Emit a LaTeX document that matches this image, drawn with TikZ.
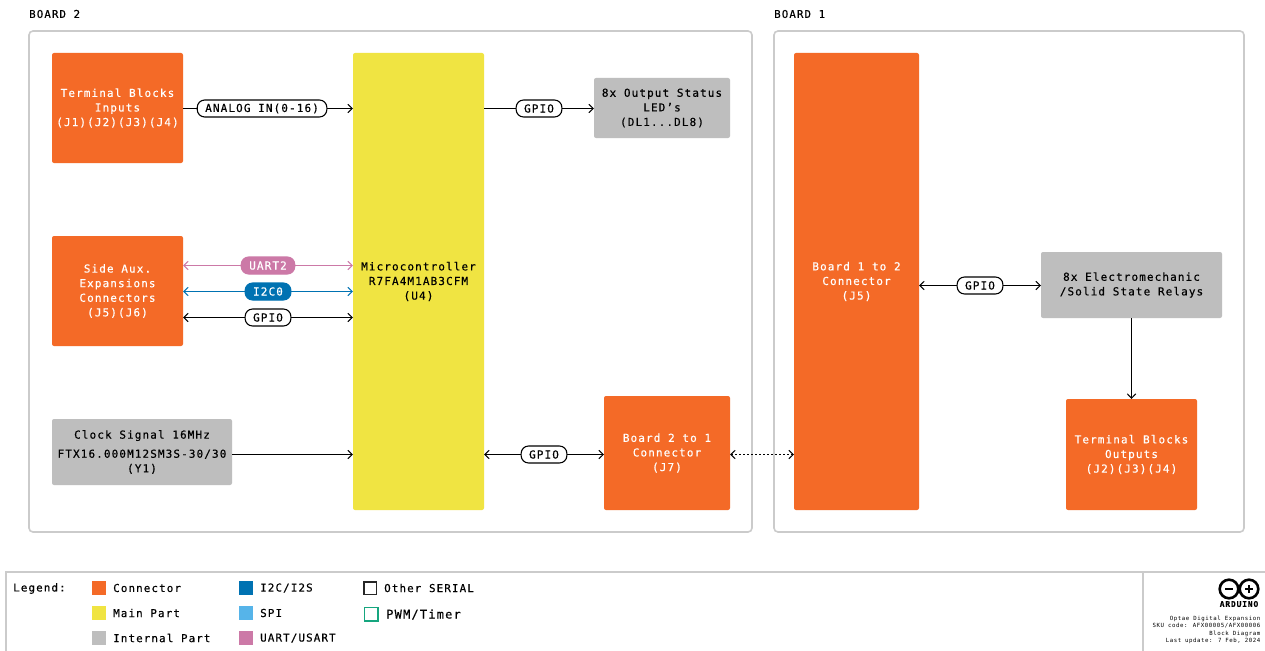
\documentclass[tikz,border=0pt]{standalone}
\usepackage{fontspec}
\setmainfont{DejaVu Sans Mono}[LetterSpace=10,FakeBold=0.35]
\newfontfamily\plainmono{DejaVu Sans Mono}[LetterSpace=10]
\usetikzlibrary{arrows.meta}
\definecolor{cOrange}{HTML}{F46A27}
\definecolor{cYellow}{HTML}{F0E442}
\definecolor{cGrey}{HTML}{BEBEBE}
\definecolor{cFrame}{HTML}{CBCBCB}
\definecolor{cBlue}{HTML}{0072B2}
\definecolor{cSky}{HTML}{56B4E9}
\definecolor{cPink}{HTML}{CC79A7}
\definecolor{cGreen}{HTML}{16A67F}
\tikzset{
  sized/.style 2 args={minimum width=#1pt,minimum height=#2pt},
  block/.style={anchor=center,rounded corners=2pt,inner sep=0pt,outer sep=0pt,align=center,font=\fontsize{11}{14.6}\selectfont,execute at begin node={\rule{0pt}{10.5pt}}},
  conn/.style={block,fill=cOrange,text=white},
  mainp/.style={block,fill=cYellow,text=black},
  intp/.style={block,fill=cGrey,text=black},
  frameb/.style={draw=cFrame,line width=1.6pt,rounded corners=4pt},
  pill/.style={draw=black,fill=white,line width=1.1pt,rounded corners=7.5pt,minimum height=17pt,inner xsep=8pt,inner ysep=0pt,font=\fontsize{11}{12}\selectfont,text=black},
  pillU/.style={pill,draw=cPink,fill=cPink,text=white},
  pillI/.style={pill,draw=cBlue,fill=cBlue,text=white},
  wire/.style={line width=1.1pt,draw=black},
  tip/.style={-{Straight Barb[length=4.5pt,width=8.5pt,line width=1pt]}},
  tips/.style={{Straight Barb[length=4.5pt,width=8.5pt,line width=1pt]}-{Straight Barb[length=4.5pt,width=8.5pt,line width=1pt]}},
  title/.style={anchor=west,inner sep=0pt,font=\fontsize{10.8}{12}\selectfont},
  legtxt/.style={anchor=west,inner sep=0pt,font=\fontsize{10.9}{12}\selectfont},
  swatch/.style={minimum size=14pt,inner sep=0pt,outer sep=0pt},
  small/.style={anchor=east,inner sep=0pt,font=\plainmono\fontsize{5.7}{7}\selectfont},
}
\begin{document}
\begin{tikzpicture}[x=1pt,y=-1pt]
\useasboundingbox (0,0) rectangle (1265,650);
\fill[white] (0,0) rectangle (1265,650);
% frames
\node[title] (t2) at (29,14) {BOARD 2};
\node[title] (t1) at (774,14) {BOARD 1};
\draw[frameb] (29,31) rectangle (752,532);
\draw[frameb] (774,31) rectangle (1244,532);
% blocks
\node[conn,sized={131}{110}] (tbi) at (117.5,108) {Terminal Blocks\\Inputs\\(J1)(J2)(J3)(J4)};
\node[mainp,sized={131}{457}] (mcu) at (418.5,281.5) {Microcontroller\\R7FA4M1AB3CFM\\(U4)};
\node[intp,sized={136}{60}] (led) at (662,108) {8x Output Status\\LED's\\(DL1...DL8)};
\node[conn,sized={131}{110}] (aux) at (117.5,291) {Side Aux.\\Expansions\\Connectors\\(J5)(J6)};
\node[intp,sized={180}{66}] (clk) at (142,452) {Clock Signal 16MHz\\[4.5pt]FTX16.000M12SM3S-30/30\\(Y1)};
\node[conn,sized={126}{114}] (j7) at (667,453) {Board 2 to 1\\Connector\\(J7)};
\node[conn,sized={125}{457}] (j5) at (856.5,281.5) {Board 1 to 2\\Connector\\(J5)};
\node[intp,sized={181}{66}] (rel) at (1131.5,285) {8x Electromechanic\\/Solid State Relays};
\node[conn,sized={131}{111}] (tbo) at (1131.5,454.5) {Terminal Blocks\\Outputs\\(J2)(J3)(J4)};
% connector levels
\coordinate (yT) at (0,108.5);
\coordinate (yU) at (0,265.5);
\coordinate (yI) at (0,291.5);
\coordinate (yG) at (0,317.5);
\coordinate (yC) at (0,454.5);
\coordinate (yR) at (0,285.5);
% connectors
\draw[wire,tip] (tbi.east |- yT) -- node[pill,pos=0.465] (lA) {ANALOG IN(0-16)} (mcu.west |- yT);
\draw[wire,tip] (mcu.east |- yT) -- node[pill] (lL) {GPIO} (led.west |- yT);
\draw[wire,tips,draw=cPink] (aux.east |- yU) -- node[pillU] (lU) {UART2} (mcu.west |- yU);
\draw[wire,tips,draw=cBlue] (aux.east |- yI) -- node[pillI] (lI) {I2C0} (mcu.west |- yI);
\draw[wire,tips] (aux.east |- yG) -- node[pill] (lG) {GPIO} (mcu.west |- yG);
\draw[wire,tip] (clk.east |- yC) -- (mcu.west |- yC);
\draw[wire,tips] (mcu.east |- yC) -- node[pill] (lJ) {GPIO} (j7.west |- yC);
\draw[wire,tips,dash pattern=on 2pt off 2pt] (j7.east |- yC) -- (j5.west |- yC);
\draw[wire,tips] (j5.east |- yR) -- node[pill] (lR) {GPIO} (rel.west |- yR);
\draw[wire,tip] (rel.south) -- (tbo.north);
% legend frame
\draw[draw=cFrame,line width=1.2pt] (1270,572) -- (6,572) -- (6,655);
\draw[draw=cFrame,line width=1.2pt] (1143,572) -- (1143,655);
\node[legtxt] (lg) at (13,588.5) {Legend:};
\node[swatch,fill=cOrange] (s1) at (99,588) {};
\node[swatch,fill=cYellow] (s2) at (99,613) {};
\node[swatch,fill=cGrey] (s3) at (99,638) {};
\node[legtxt] (x1) at (113,588) {Connector};
\node[legtxt] (x2) at (113,613) {Main Part};
\node[legtxt] (x3) at (113,638) {Internal Part};
\node[swatch,fill=cBlue] (s4) at (246,588) {};
\node[swatch,fill=cSky] (s5) at (246,613) {};
\node[swatch,fill=cPink] (s6) at (246,638) {};
\node[legtxt] (x4) at (260,588) {I2C/I2S};
\node[legtxt] (x5) at (260,613) {SPI};
\node[legtxt] (x6) at (260,638) {UART/USART};
\node[swatch,minimum size=12.5pt,draw=black!85,line width=1.5pt] (s7) at (370,588) {};
\node[swatch,minimum size=13.5pt,draw=cGreen,line width=1.5pt] (s8) at (371,614) {};
\node[legtxt] (x7) at (384,588) {Other SERIAL};
\node[legtxt,font=\fontsize{12}{13}\selectfont] (x8) at (386,614.5) {PWM/Timer};
% logo
\draw[black,line width=2.6pt] (1229,589) circle (9.3);
\draw[black,line width=2.6pt] (1249,589) circle (9.3);
\fill[black] (1225,588.2) rectangle (1233,590);
\fill[black] (1245,588.2) rectangle (1253,590);
\fill[black] (1248.1,585) rectangle (1249.9,593);
\node[anchor=center,inner sep=0pt,font=\fontsize{8}{9}\selectfont\bfseries] (ard) at (1239,604) {ARDUINO};
\node[small] (n1) at (1260.5,618.5) {Optae Digital Expansion};
\node[small] (n2) at (1260.5,626) {SKU code: AFX00005/AFX00006};
\node[small] (n3) at (1260.5,633.5) {Block Diagram};
\node[small] (n4) at (1260.5,641) {Last update: 7 Feb, 2024};
\end{tikzpicture}
\end{document}
